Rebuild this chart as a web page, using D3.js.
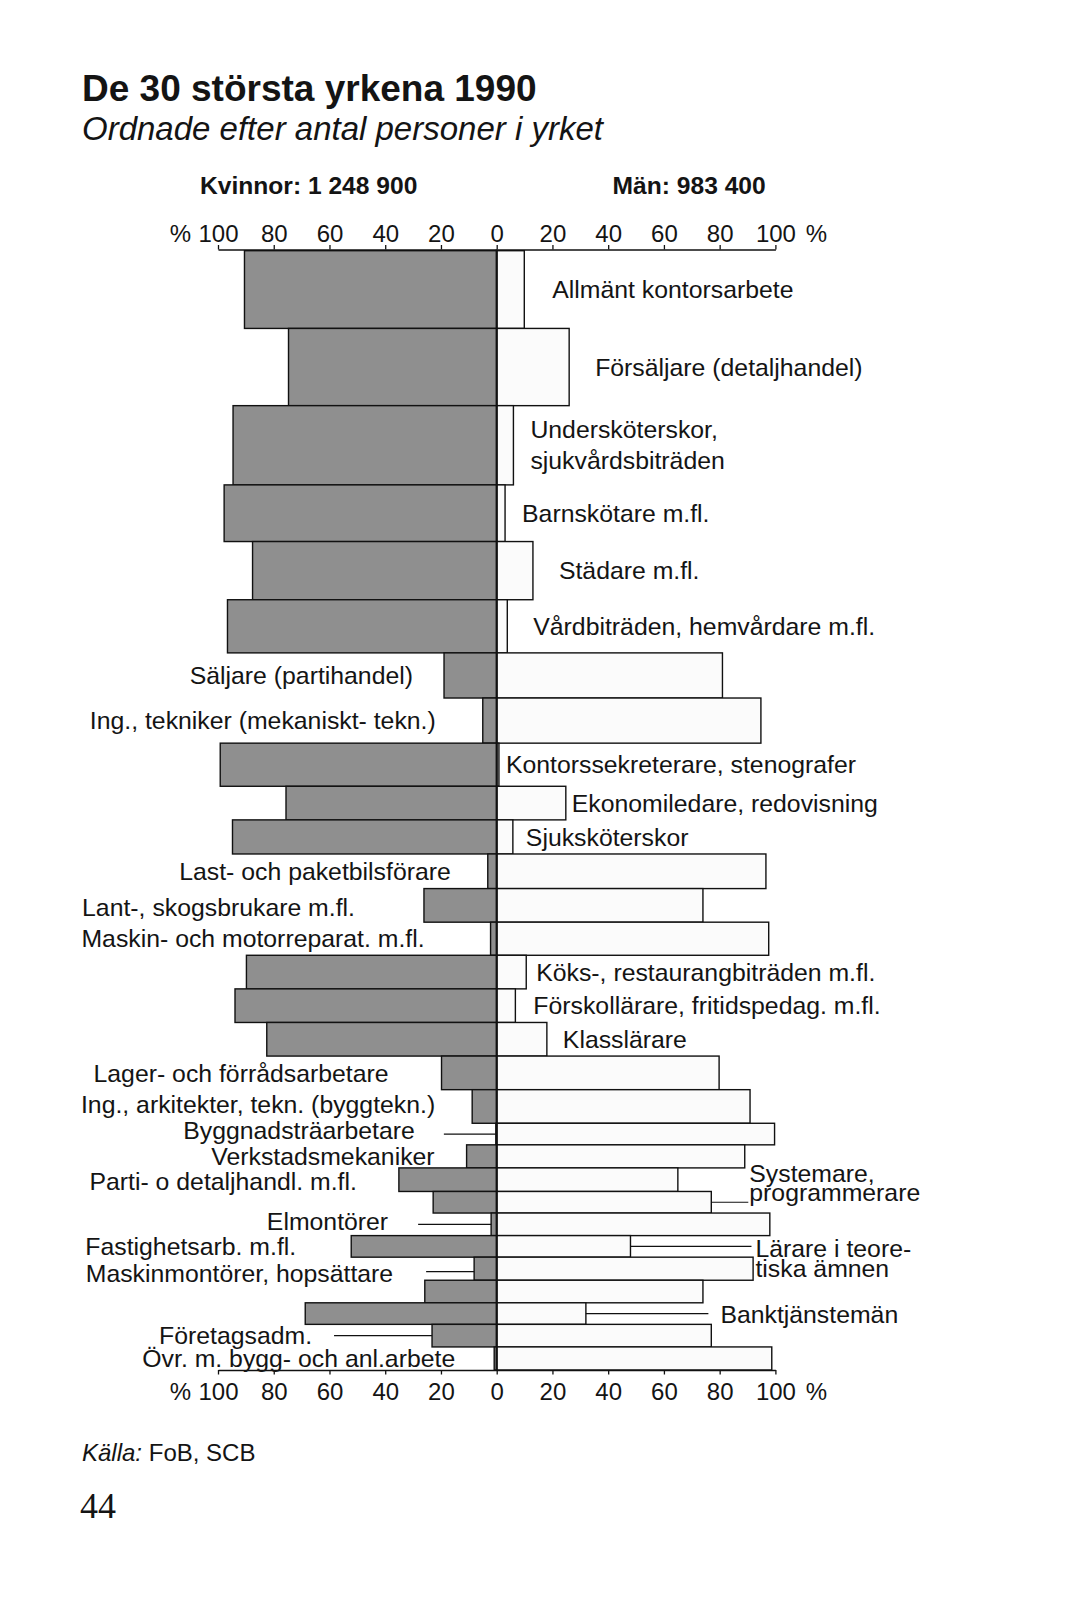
<!DOCTYPE html>
<html><head><meta charset="utf-8">
<script src="https://cdn.jsdelivr.net/npm/d3@7"></script>
<style>body{margin:0;background:#fff}</style>
</head><body><svg id="c" width="1071" height="1601"></svg>
<script>
// ---------- data ----------
const categories = [
  "Allmänt kontorsarbete","Försäljare (detaljhandel)","Undersköterskor, sjukvårdsbiträden",
  "Barnskötare m.fl.","Städare m.fl.","Vårdbiträden, hemvårdare m.fl.","Säljare (partihandel)",
  "Ing., tekniker (mekaniskt- tekn.)","Kontorssekreterare, stenografer","Ekonomiledare, redovisning",
  "Sjuksköterskor","Last- och paketbilsförare","Lant-, skogsbrukare m.fl.","Maskin- och motorreparat. m.fl.",
  "Köks-, restaurangbiträden m.fl.","Förskollärare, fritidspedag. m.fl.","Klasslärare",
  "Lager- och förrådsarbetare","Ing., arkitekter, tekn. (byggtekn.)","Byggnadsträarbetare",
  "Verkstadsmekaniker","Parti- o detaljhandl. m.fl.","Systemare, programmerare","Elmontörer",
  "Lärare i teoretiska ämnen","Maskinmontörer, hopsättare","Fastighetsarb. m.fl.","Banktjänstemän",
  "Företagsadm.","Övr. m. bygg- och anl.arbete"
];
// label text as printed (line breaks)
const labelLines = [
  ["Allmänt kontorsarbete"],["Försäljare (detaljhandel)"],["Undersköterskor,","sjukvårdsbiträden"],
  ["Barnskötare m.fl."],["Städare m.fl."],["Vårdbiträden, hemvårdare m.fl."],["Säljare (partihandel)"],
  ["Ing., tekniker (mekaniskt- tekn.)"],["Kontorssekreterare, stenografer"],["Ekonomiledare, redovisning"],
  ["Sjuksköterskor"],["Last- och paketbilsförare"],["Lant-, skogsbrukare m.fl."],["Maskin- och motorreparat. m.fl."],
  ["Köks-, restaurangbiträden m.fl."],["Förskollärare, fritidspedag. m.fl."],["Klasslärare"],
  ["Lager- och förrådsarbetare"],["Ing., arkitekter, tekn. (byggtekn.)"],["Byggnadsträarbetare"],
  ["Verkstadsmekaniker"],["Parti- o detaljhandl. m.fl."],["Systemare,","programmerare"],["Elmontörer"],
  ["Lärare i teore-","tiska ämnen"],["Maskinmontörer, hopsättare"],["Fastighetsarb. m.fl."],["Banktjänstemän"],
  ["Företagsadm."],["Övr. m. bygg- och anl.arbete"]
];
// number of persons (thousands) -> bar thickness
const totals = [155,154,158,113,116,106,90,90,86,67,68,69,67,66,67,67,67,67,67,43,46,47,43,45,43,46,45,43,45,46];
// share of women / men (%)
const women = [90.5,74.7,94.6,97.8,87.6,96.6,18.9,5.0,99.2,75.6,94.8,3.2,26.1,2.2,89.8,93.9,82.5,19.8,8.8,0.3,10.8,35.1,22.8,2.0,52.2,8.1,25.8,68.7,23.2,0.9];
const men   = [9.9,26,6,3,13,3.8,81,94.8,0.8,24.8,5.8,96.6,74,97.6,10.6,6.7,18,79.8,90.9,99.7,89,65,77,98,48,92,74,32,77,98.7];
const womenTicks = [0,20,40,60,80,100];
const menTicks = [20,40,60,80,100];
const titleText = "De 30 största yrkena 1990";
const subtitleText = "Ordnade efter antal personer i yrket";
const womenHeader = "Kvinnor: 1 248 900";
const menHeader = "Män: 983 400";
const sourceLabel = "Källa:";
const sourceText = " FoB, SCB";
const pageNumber = "44";

// ---------- label layout (placement only) ----------
const labelLayout = [
 {side:'R', off:28},{side:'R', off:26},{side:'R', off:17, lh:31},{side:'R', off:17},
 {side:'R', off:26},{side:'R', off:26},{side:'L', off:31},{side:'L', off:47},
 {side:'R', off:7},{side:'R', off:6},{side:'R', off:13},{side:'L', off:37},
 {side:'L', off:69, dy:2},{side:'L', off:66},{side:'R', off:10},{side:'R', off:18},
 {side:'R', off:16},{side:'L', off:53},{side:'L', off:37, dy:-2},
 {side:'L', off:81, dy:-3.5, leader:29},
 {side:'L', off:32},{side:'L', off:42, dy:2},
 {side:'R', off:38, leader:1, lh:18.5, dy:-19.5},
 {side:'L', off:103, dy:-3, leader:30},
 {side:'R', off:125, leader:4, lh:20, dy:12},
 {side:'L', off:81, dy:5, leader:33, ldy:3},
 {side:'L', off:55, row:24},
 {side:'R', off:134.5, leader:12, dy:1},
 {side:'L', off:120, leader:22},
 {side:'L', off:39}
];

// ---------- drawing ----------
const svg = d3.select("#c");
svg.append("rect").attr("width",1071).attr("height",1601).attr("fill","#fff");
const FONT = "'Liberation Sans', Arial, Helvetica, sans-serif";
const INK = "#141414";

const x0 = 496.7;
const xW = d3.scaleLinear().domain([0,100]).range([x0, x0-278.7]);
const xM = d3.scaleLinear().domain([0,100]).range([x0, x0+278.7]);
const cum = [];
totals.reduce((a,v,i)=>{cum[i]=a; return a+v;},0);
const sum = d3.sum(totals);
const y = d3.scaleLinear().domain([0,sum]).range([250.7,1370]);
const axTop = 249.5, axBot = 1370;

// titles
svg.append("text").attr("x",82).attr("y",101).attr("font-family",FONT).attr("font-weight","bold")
  .attr("font-size",37).attr("fill",INK).text(titleText);
svg.append("text").attr("x",82).attr("y",140).attr("font-family",FONT).attr("font-style","italic")
  .attr("font-size",33).attr("fill",INK).text(subtitleText);
svg.append("text").attr("x",200).attr("y",193.5).attr("font-family",FONT).attr("font-weight","bold")
  .attr("font-size",24.6).attr("fill",INK).text(womenHeader);
svg.append("text").attr("x",612.6).attr("y",193.5).attr("font-family",FONT).attr("font-weight","bold")
  .attr("font-size",24.6).attr("fill",INK).text(menHeader);

// bars
const rows = categories.map((c,i)=>({c, i, t:totals[i], w:women[i], m:men[i], y0:y(cum[i]), y1:y(cum[i]+totals[i])}));
const gB = svg.append("g");
gB.selectAll("rect.w").data(rows).join("rect").attr("class","w")
  .attr("x",d=>xW(d.w)).attr("width",d=>xW(0)-xW(d.w))
  .attr("y",d=>d.y0).attr("height",d=>d.y1-d.y0)
  .attr("fill","#8f8f8f").attr("stroke","#111").attr("stroke-width",1.4);
gB.selectAll("rect.m").data(rows).join("rect").attr("class","m")
  .attr("x",xM(0)).attr("width",d=>xM(d.m)-xM(0))
  .attr("y",d=>d.y0).attr("height",d=>d.y1-d.y0)
  .attr("fill","#fbfbfb").attr("stroke","#111").attr("stroke-width",1.4);

// zero line
svg.append("line").attr("x1",x0).attr("x2",x0).attr("y1",axTop).attr("y2",axBot)
  .attr("stroke","#111").attr("stroke-width",2.2);

// axes
function styleAxis(g){
  g.selectAll("path.domain").attr("stroke","#111").attr("stroke-width",1.3);
  g.selectAll(".tick line").attr("stroke","#111").attr("stroke-width",1.3);
  g.selectAll(".tick text").attr("font-family",FONT).attr("font-size",24).attr("fill",INK);
}
const fmt = d=>String(d);
[["top",axTop],["bottom",axBot]].forEach(([pos,yy])=>{
  const mk = pos==="top" ? d3.axisTop : d3.axisBottom;
  const gw = svg.append("g").attr("transform",`translate(0,${yy})`)
    .call(mk(xW).tickValues(womenTicks).tickSize(4.5).tickSizeOuter(0).tickFormat(fmt));
  const gm = svg.append("g").attr("transform",`translate(0,${yy})`)
    .call(mk(xM).tickValues(menTicks).tickSize(4.5).tickSizeOuter(0).tickFormat(fmt));
  [gw,gm].forEach(g=>{
    styleAxis(g);
    g.selectAll(".tick text").attr("dy",null).attr("y", pos==="top" ? -7.5 : 30);
  });
  const ty = pos==="top" ? yy-7.5 : yy+30;
  svg.append("text").attr("x",180.5).attr("y",ty).attr("text-anchor","middle")
    .attr("font-family",FONT).attr("font-size",24).attr("fill",INK).text("%");
  svg.append("text").attr("x",816.5).attr("y",ty).attr("text-anchor","middle")
    .attr("font-family",FONT).attr("font-size",24).attr("fill",INK).text("%");
});

// labels
const FS = 24.8;
const gL = svg.append("g").attr("font-family",FONT).attr("font-size",FS).attr("fill",INK);
rows.forEach((d,i)=>{
  const L = labelLayout[i];
  const r = rows[L.row!==undefined ? L.row : i];
  const cy = (r.y0+r.y1)/2;
  const lines = labelLines[i];
  const lh = L.lh || 30;
  const dy = L.dy || 0;
  let tx, anchor, edge;
  if(L.side==='R'){ edge = xM(r.m); tx = edge + L.off; anchor="start"; }
  else { edge = xW(r.w); tx = edge - L.off; anchor="end"; }
  const t = gL.append("text").attr("text-anchor",anchor);
  lines.forEach((ln,k)=>{
    const c = cy + dy + (k-(lines.length-1)/2)*lh;
    t.append("tspan").attr("x",tx).attr("y",c+0.35*FS).text(ln);
  });
  if(L.leader!==undefined){
    const ly = cy + (L.ldy||0);
    const xa = edge, xb = L.side==='R' ? tx - L.leader : tx + L.leader;
    svg.append("line").attr("x1",xa).attr("x2",xb).attr("y1",ly).attr("y2",ly)
      .attr("stroke","#111").attr("stroke-width",1.2);
  }
});

// source & page number
const src = svg.append("text").attr("x",82).attr("y",1461).attr("font-family",FONT)
  .attr("font-size",24).attr("fill",INK);
src.append("tspan").attr("font-style","italic").text(sourceLabel);
src.append("tspan").text(sourceText);
svg.append("text").attr("x",80).attr("y",1518).attr("font-family","'Liberation Serif','Times New Roman',serif")
  .attr("font-size",36).attr("fill",INK).text(pageNumber);
</script>
</body></html>
